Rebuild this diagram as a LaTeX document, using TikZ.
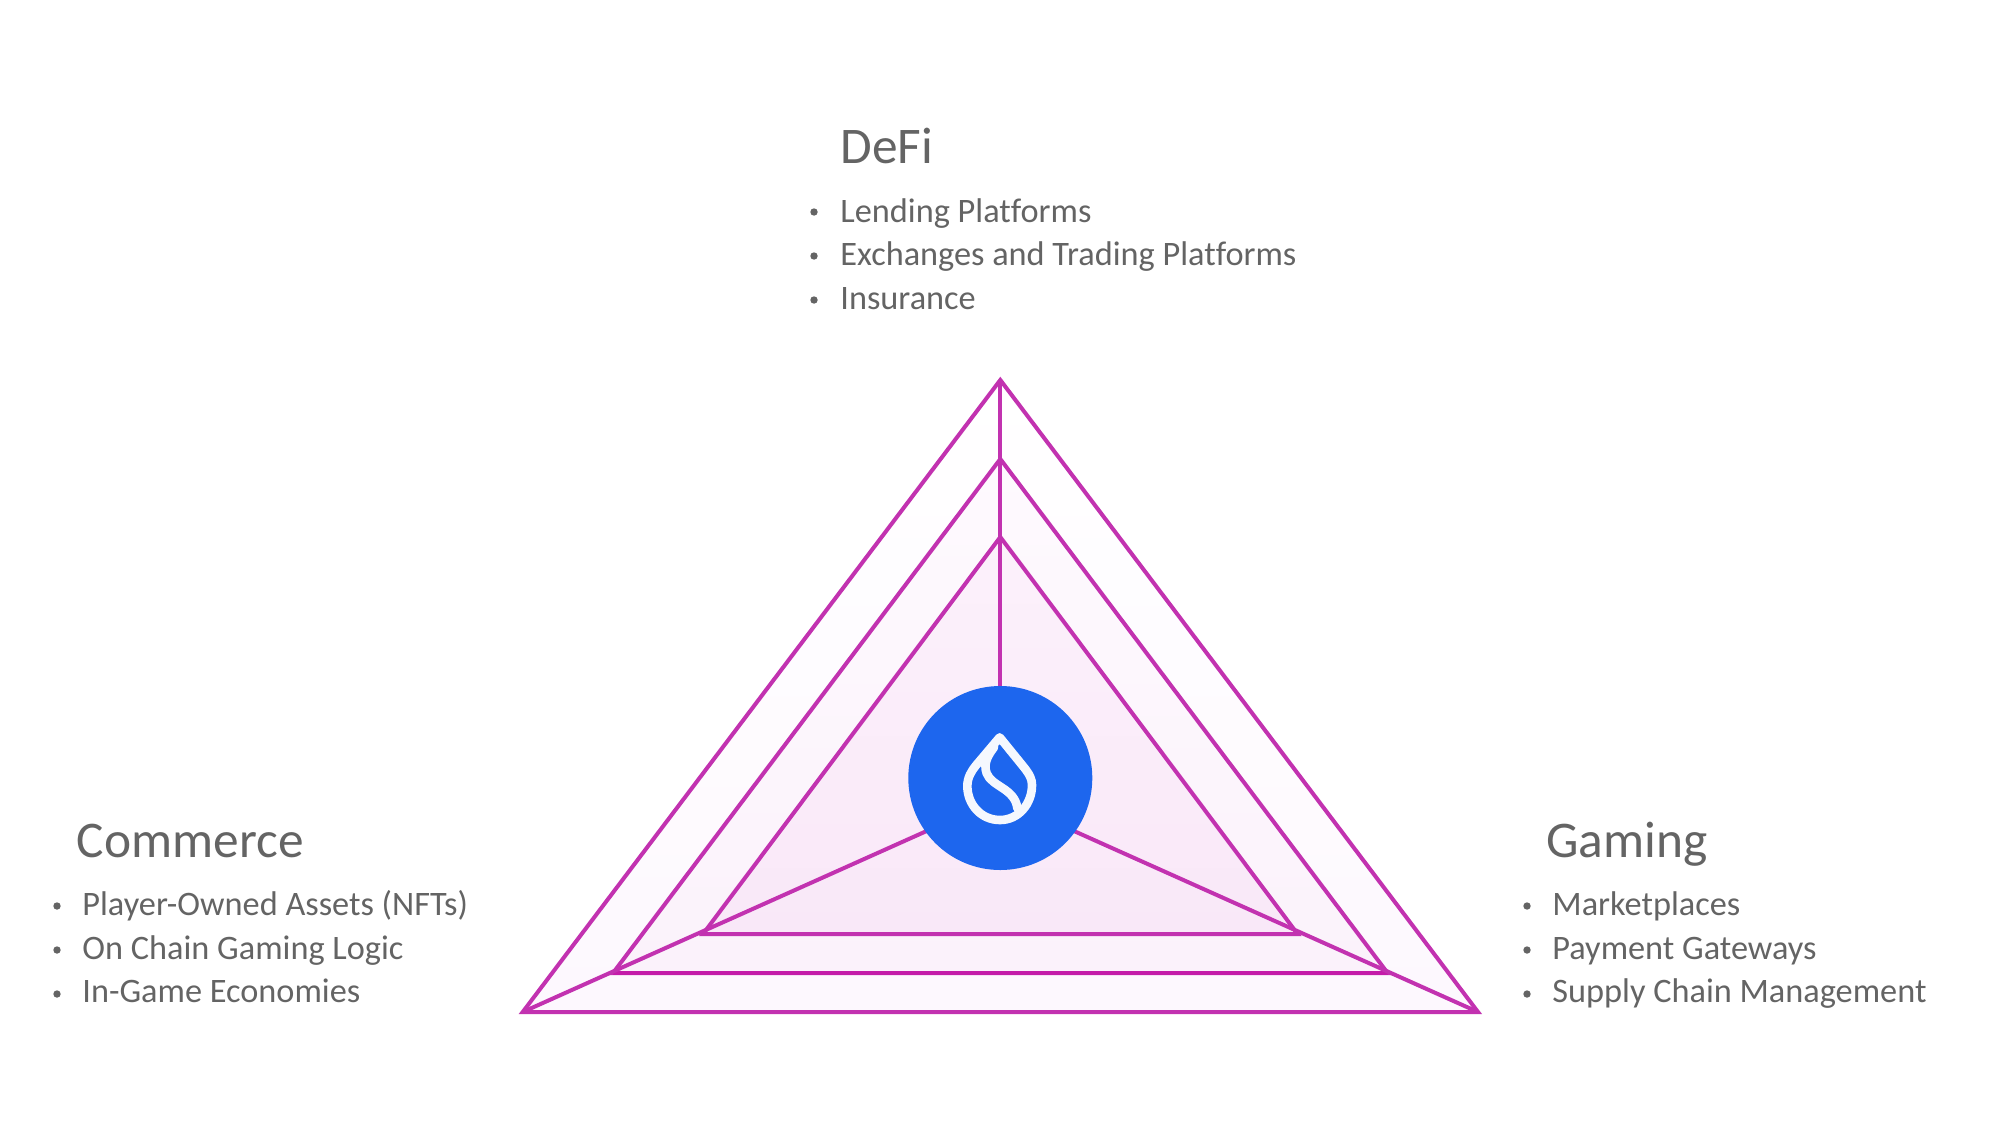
\documentclass[tikz,border=0pt]{standalone}
\usepackage{fontspec}
\setmainfont[Ligatures=NoCommon]{Carlito}
\definecolor{ink}{HTML}{646464}
\definecolor{edge}{HTML}{C232B0}
\definecolor{edgemid}{HTML}{C41CA9}
\definecolor{hubblue}{HTML}{1D66EE}
\definecolor{logowhite}{HTML}{F5F8FE}
\definecolor{outerlo}{HTML}{FDF8FE}
\definecolor{midhi}{HTML}{FEFAFE}
\definecolor{midlo}{HTML}{FBF2FB}
\definecolor{innerhi}{HTML}{FCF1FB}
\definecolor{innerlo}{HTML}{F9E8F8}
\tikzset{
  px/.style={x=0.5pt,y=-0.5pt},
  heading/.style={anchor=base west,inner sep=0pt,text=ink,font=\fontsize{25.7}{30}\selectfont},
  item/.style={anchor=base west,inner sep=0pt,text=ink,font=\fontsize{17.15}{21}\selectfont},
  dot/.style={circle,fill=ink,inner sep=0pt,minimum size=3.7pt},
  tri/.style={draw=edge,line width=2pt,line join=miter,miter limit=20},
  spoke/.style={draw=edge,line width=2pt},
  hubdisc/.style={circle,fill=hubblue,inner sep=0pt,minimum size=92pt},
  logoline/.style={draw=logowhite,line width=4.3pt,line join=round,line cap=round}
}
\begin{document}
\begin{tikzpicture}[px]
\useasboundingbox (0,0) rectangle (2000,1125);
\coordinate (ot) at (1000.3,380);
\coordinate (ol) at (522.7,1012);
\coordinate (or) at (1478,1012);
\coordinate (mt) at (1000.3,459);
\coordinate (ml) at (613,973);
\coordinate (mr) at (1387.6,973);
\coordinate (it) at (1000.3,537);
\coordinate (il) at (703,934);
\coordinate (ir) at (1297.6,934);
\coordinate (aim) at (1000.3,798);
\fill[top color=white,bottom color=outerlo] (ot)--(ol)--(or)--cycle;
\fill[top color=midhi,bottom color=midlo] (mt)--(ml)--(mr)--cycle;
\fill[top color=innerhi,bottom color=innerlo] (it)--(il)--(ir)--cycle;
\draw[tri] (ot)--(ol)--(or)--cycle;
\draw[tri] (mt)--(ml)--(mr)--cycle;
\draw[tri] (it)--(il)--(ir)--cycle;
\draw[spoke,draw=edgemid] (ml)--(mr);
\draw[spoke] (ot)--(aim);
\draw[spoke] (ol)--(aim);
\draw[spoke] (or)--(aim);
\node[hubdisc] (hub) at (1000.3,778) {};
\begin{scope}[shift={(880,660)},x=0.16667pt,y=-0.16667pt]
\fill[logowhite] (359,232) -- (288,316) -- (314,322) -- (342,262) -- cycle;
\draw[logoline] (359,232) -- (432,322) .. controls (450,345) and (456,358) .. (456,375)
  .. controls (456,432) and (415,480) .. (360,480)
  .. controls (302,480) and (262,432) .. (262,378)
  .. controls (262,352) and (275,332) .. (288,316) -- cycle;
\draw[logoline] (342,262) .. controls (322,288) and (310,312) .. (320,340)
  .. controls (335,380) and (405,385) .. (412,445);
\end{scope}
% DeFi
\node[heading] (t1) at (840,163) {DeFi};
\node[item] (a1) at (840,222) {Lending Platforms};
\node[item] (a2) at (840,265) {Exchanges and Trading Platforms};
\node[item] (a3) at (840,309) {Insurance};
\node[dot] (ad1) at (814,212) {};
\node[dot] (ad2) at (814,256) {};
\node[dot] (ad3) at (814,300) {};
% Commerce
\node[heading] (t2) at (76.5,857) {Commerce};
\node[item] (b1) at (82,915) {Player-Owned Assets (NFTs)};
\node[item] (b2) at (82,959) {On Chain Gaming Logic};
\node[item] (b3) at (82,1002) {In-Game Economies};
\node[dot] (bd1) at (57,906) {};
\node[dot] (bd2) at (57,950) {};
\node[dot] (bd3) at (57,994) {};
% Gaming
\node[heading] (t3) at (1546,857) {Gaming};
\node[item] (c1) at (1552,915) {Marketplaces};
\node[item] (c2) at (1552,959) {Payment Gateways};
\node[item] (c3) at (1552,1002) {Supply Chain Management};
\node[dot] (cd1) at (1527,906) {};
\node[dot] (cd2) at (1527,950) {};
\node[dot] (cd3) at (1527,994) {};
\end{tikzpicture}
\end{document}
